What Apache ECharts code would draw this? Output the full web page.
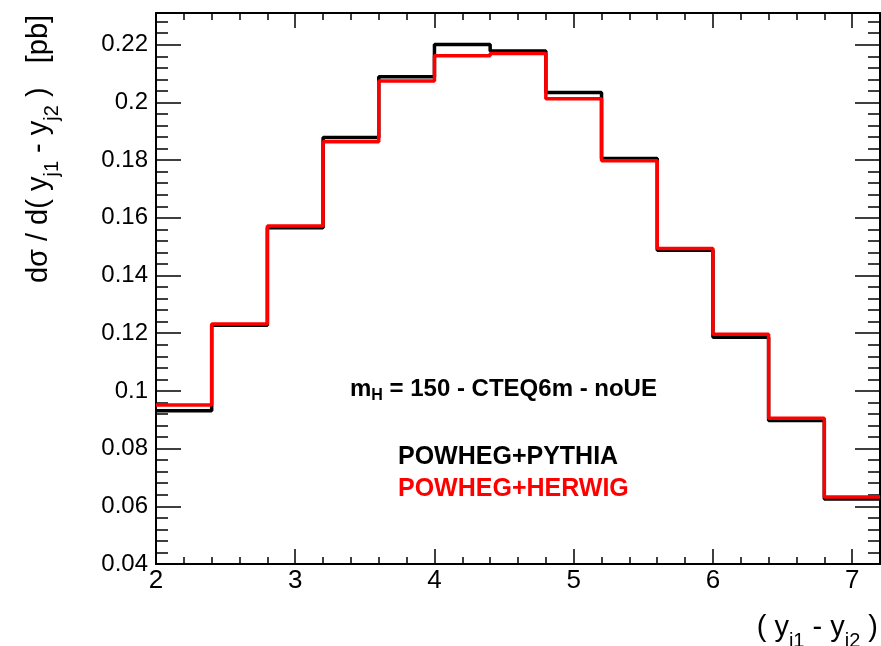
<!DOCTYPE html>
<html><head><meta charset="utf-8">
<script src="https://cdn.jsdelivr.net/npm/echarts@6/dist/echarts.min.js"></script>
<style>html,body{margin:0;padding:0;background:#fff}#c{width:881px;height:646px}</style>
</head><body><div id="c"></div>
<script>
// Bin edges of the histogram (y_j1 - y_j2)
const binEdges = [2.0, 2.4, 2.8, 3.2, 3.6, 4.0, 4.4, 4.8, 5.2, 5.6, 6.0, 6.4, 6.8, 7.2];
// dsigma / d(y_j1 - y_j2) [pb]
const pythia = [0.0931, 0.1228, 0.1566, 0.1878, 0.2089, 0.2201, 0.2178, 0.2034, 0.1806, 0.1488, 0.1186, 0.0897, 0.0625];
const herwig = [0.0951, 0.1232, 0.1572, 0.1864, 0.2074, 0.2162, 0.2170, 0.2013, 0.1798, 0.1494, 0.1196, 0.0905, 0.0632];
const seriesNames = ['POWHEG+PYTHIA', 'POWHEG+HERWIG'];
const xTickLabels = ['2', '3', '4', '5', '6', '7'];
const yTickLabels = ['0.04', '0.06', '0.08', '0.1', '0.12', '0.14', '0.16', '0.18', '0.2', '0.22'];

const xMin = 2, xMax = 7.2, yMin = 0.04, yMax = 0.231;

function histData(vals) {
  const d = vals.map((v, i) => [binEdges[i], v]);
  d.push([binEdges[binEdges.length - 1], vals[vals.length - 1]]);
  return d;
}

const sans = '"Liberation Sans", Arial, Helvetica, sans-serif';

function xAx(pos, major, withLabel) {
  return {
    type: 'value', position: pos, min: xMin, max: xMax,
    interval: major ? 1 : 0.2,
    axisLine: { show: major, lineStyle: { color: '#000', width: 2 } },
    axisTick: { show: true, inside: true, length: major ? 15 : 7, lineStyle: { color: '#000', width: 1.5 } },
    axisLabel: {
      show: withLabel, showMaxLabel: false, margin: 4,
      color: '#000', fontFamily: sans, fontSize: 26,
      formatter: v => { const s = String(Math.round(v * 10) / 10); return xTickLabels.includes(s) ? s : ''; }
    },
    splitLine: { show: false }
  };
}
function yAx(pos, major, withLabel) {
  return {
    type: 'value', position: pos, min: yMin, max: yMax,
    interval: major ? 0.02 : 0.004,
    axisLine: { show: major, lineStyle: { color: '#000', width: 2 } },
    axisTick: { show: true, inside: true, length: major ? 25 : 12, lineStyle: { color: '#000', width: 1.5 } },
    axisLabel: {
      show: withLabel, showMaxLabel: false, margin: 8,
      color: '#000', fontFamily: sans, fontSize: 24,
      formatter: v => { const s = String(Math.round(v * 1000) / 1000); return yTickLabels.includes(s) ? s : ''; }
    },
    splitLine: { show: false }
  };
}

const chart = echarts.init(document.getElementById('c'), null, { renderer: 'canvas' });
chart.setOption({
  animation: false,
  backgroundColor: '#fff',
  grid: { left: 156, right: 1, top: 13, bottom: 82, containLabel: false },
  xAxis: [xAx('bottom', true, true), xAx('bottom', false, false), xAx('top', true, false), xAx('top', false, false)],
  yAxis: [yAx('left', true, true), yAx('left', false, false), yAx('right', true, false), yAx('right', false, false)],
  legend: {
    orient: 'vertical', left: 388, top: 440, icon: 'none', itemWidth: 0, itemGap: 7,
    textStyle: { fontFamily: sans, fontWeight: 'bold', fontSize: 25 },
    data: [
      { name: seriesNames[0], textStyle: { color: '#000' } },
      { name: seriesNames[1], textStyle: { color: '#ff0000' } }
    ],
    selectedMode: false
  },
  series: [
    { name: seriesNames[0], type: 'line', step: 'end', symbol: 'none', xAxisIndex: 0, yAxisIndex: 0,
      lineStyle: { color: '#000', width: 3.5 }, itemStyle: { color: '#000' }, data: histData(pythia), z: 2 },
    { name: seriesNames[1], type: 'line', step: 'end', symbol: 'none', xAxisIndex: 0, yAxisIndex: 0,
      lineStyle: { color: '#ff0000', width: 3.5 }, itemStyle: { color: '#ff0000' }, data: histData(herwig), z: 3 }
  ],
  graphic: [
    { type: 'text', left: 350, top: 377,
      style: { text: '{b|m}{s|H}{b| = 150 - CTEQ6m - noUE}', fill: '#000',
        rich: { b: { fontFamily: sans, fontWeight: 'bold', fontSize: 24, fill: '#000' },
                s: { fontFamily: sans, fontWeight: 'bold', fontSize: 16, fill: '#000', padding: [14, 0, 0, 0] } } } },
    { type: 'text', x: 39, y: 149, rotation: Math.PI / 2,
      style: { text: '{n|dσ / d( y}{s|j1}{n| - y}{s|j2}{n| )   [pb]}', align: 'center', verticalAlign: 'middle',
        rich: { n: { fontFamily: sans, fontSize: 29, fill: '#000' },
                s: { fontFamily: sans, fontSize: 20, fill: '#000', padding: [26, 0, 0, 0] } } } },
    { type: 'text', x: 878, y: 628,
      style: { text: '{n|( y}{s|j1}{n| - y}{s|j2}{n| )}', align: 'right', verticalAlign: 'middle',
        rich: { n: { fontFamily: sans, fontSize: 29, fill: '#000' },
                s: { fontFamily: sans, fontSize: 20, fill: '#000', padding: [26, 0, 0, 0] } } } }
  ]
});
</script></body></html>
